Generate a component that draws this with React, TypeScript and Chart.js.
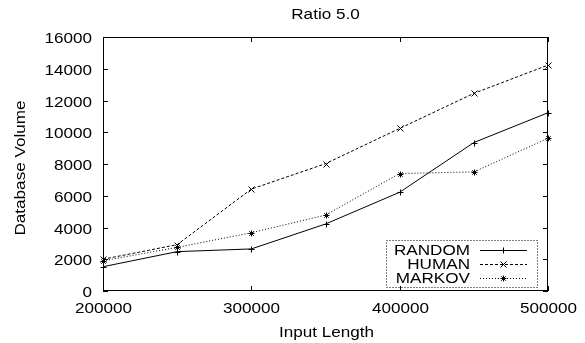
import React, { useEffect, useRef } from "react";
import { Chart, registerables } from "chart.js";

Chart.register(...registerables);

const xValues = [200000, 250000, 300000, 350000, 400000, 450000, 500000];
const randomValues = [1530, 2480, 2650, 4220, 6220, 9350, 11230];
const humanValues = [2000, 2920, 6420, 8020, 10240, 12450, 14230];
const markovValues = [1900, 2750, 3670, 4780, 7400, 7500, 9620];
const xTickValues = [200000, 300000, 400000, 500000];
const seriesNames = ["RANDOM", "HUMAN", "MARKOV"];
const titleText = "Ratio 5.0";
const xTitle = "Input Length";
const yTitle = "Database Volume";

const FONT = "14.5px 'Liberation Sans', Arial, sans-serif";
const STRETCH = 1.18;

function stretchText(ctx: CanvasRenderingContext2D, text: string, x: number, y: number, align: CanvasTextAlign, rot = 0) {
  ctx.save();
  ctx.translate(x, y);
  if (rot) ctx.rotate(rot);
  ctx.scale(STRETCH, 1);
  ctx.font = FONT;
  ctx.fillStyle = "#000";
  ctx.textAlign = align;
  ctx.textBaseline = "alphabetic";
  ctx.fillText(text, 0, 0);
  ctx.restore();
}

function drawMarker(ctx: CanvasRenderingContext2D, style: string, x: number, y: number, r: number) {
  ctx.save();
  ctx.setLineDash([]);
  ctx.lineWidth = 1;
  ctx.strokeStyle = "#000";
  ctx.beginPath();
  if (style === "cross" || style === "star") {
    ctx.moveTo(x - r, y); ctx.lineTo(x + r, y);
    ctx.moveTo(x, y - r); ctx.lineTo(x, y + r);
  }
  if (style === "crossRot" || style === "star") {
    const d = style === "star" ? r * 0.75 : r;
    ctx.moveTo(x - d, y - d); ctx.lineTo(x + d, y + d);
    ctx.moveTo(x - d, y + d); ctx.lineTo(x + d, y - d);
  }
  ctx.stroke();
  ctx.restore();
}

const decorPlugin = {
  id: "gnuplotDecor",
  afterDraw(chart: any) {
    const ctx: CanvasRenderingContext2D = chart.ctx;
    const { left, right, top, bottom } = chart.chartArea;
    const xs = chart.scales.x;
    const ys = chart.scales.y;
    ctx.save();
    ctx.strokeStyle = "#000";
    ctx.lineWidth = 1;
    ctx.setLineDash([]);
    ctx.strokeRect(left + 0.5, top + 0.5, right - left - 1, bottom - top - 1);
    ys.ticks.forEach((t: any) => {
      const y = Math.round(ys.getPixelForValue(t.value)) + 0.5;
      ctx.beginPath();
      ctx.moveTo(left, y); ctx.lineTo(left + 5, y);
      ctx.moveTo(right, y); ctx.lineTo(right - 5, y);
      ctx.stroke();
      stretchText(ctx, String(t.value), left - 11, y + 5, "right");
    });
    xTickValues.forEach((v) => {
      const x = Math.round(xs.getPixelForValue(v)) + 0.5;
      ctx.beginPath();
      ctx.moveTo(x, bottom); ctx.lineTo(x, bottom - 5);
      ctx.moveTo(x, top); ctx.lineTo(x, top + 5);
      ctx.stroke();
      stretchText(ctx, String(v), x, 312.5, "center");
    });
    const cx = (left + right) / 2;
    stretchText(ctx, titleText, cx, 18.5, "center");
    stretchText(ctx, xTitle, cx + 1, 336.5, "center");
    stretchText(ctx, yTitle, 25, 168, "center", -Math.PI / 2);
    const bx = 386, by = 240, bw = 151, bh = 47;
    ctx.setLineDash([1, 2]);
    ctx.strokeRect(bx + 0.5, by + 0.5, bw, bh);
    const rows = [250, 263.5, 277.5];
    chart.data.datasets.forEach((ds: any, i: number) => {
      const ry = rows[i];
      stretchText(ctx, ds.label, 470, ry + 5, "right");
      ctx.save();
      ctx.setLineDash(ds.borderDash || []);
      ctx.lineWidth = 1;
      ctx.strokeStyle = "#000";
      ctx.beginPath();
      ctx.moveTo(480, Math.round(ry) + 0.5);
      ctx.lineTo(527, Math.round(ry) + 0.5);
      ctx.stroke();
      ctx.restore();
      drawMarker(ctx, ds.pointStyle, 503.5, Math.round(ry) + 0.5, 3);
    });
    ctx.restore();
  },
};

const markerPlugin = {
  id: "markers",
  afterDatasetsDraw(chart: any) {
    const ctx = chart.ctx;
    chart.data.datasets.forEach((ds: any, i: number) => {
      const meta = chart.getDatasetMeta(i);
      meta.data.forEach((pt: any) => {
        drawMarker(ctx, ds.pointStyle, Math.round(pt.x) + 0.5, Math.round(pt.y) + 0.5, 3);
      });
    });
  },
};

function toPoints(vals: number[]) {
  return xValues.map((x, i) => ({ x, y: vals[i] }));
}

export default function App() {
  const ref = useRef<HTMLCanvasElement>(null);
  useEffect(() => {
    if (!ref.current) return;
    const chart = new Chart(ref.current, {
      type: "line",
      data: {
        datasets: [
          { label: seriesNames[0], data: toPoints(randomValues), borderColor: "#000", borderWidth: 1, borderDash: [], pointStyle: "cross", pointRadius: 0, tension: 0, fill: false },
          { label: seriesNames[1], data: toPoints(humanValues), borderColor: "#000", borderWidth: 1, borderDash: [3, 2], pointStyle: "crossRot", pointRadius: 0, tension: 0, fill: false },
          { label: seriesNames[2], data: toPoints(markovValues), borderColor: "#000", borderWidth: 1, borderDash: [1, 2], pointStyle: "star", pointRadius: 0, tension: 0, fill: false },
        ] as any,
      },
      options: {
        responsive: false,
        animation: false,
        layout: { padding: { top: 37, right: 37, left: 0, bottom: 0 } },
        plugins: { legend: { display: false }, title: { display: false }, tooltip: { enabled: false } },
        scales: {
          x: {
            type: "linear",
            min: 200000,
            max: 500000,
            grid: { display: false },
            border: { display: false },
            ticks: { display: false, stepSize: 100000 },
            afterFit: (s: any) => { s.height = 52; },
          },
          y: {
            min: 0,
            max: 16000,
            grid: { display: false },
            border: { display: false },
            ticks: { display: false, stepSize: 2000 },
            afterFit: (s: any) => { s.width = 103; },
          },
        },
      } as any,
      plugins: [markerPlugin, decorPlugin],
    });
    return () => chart.destroy();
  }, []);
  return (
    <div style={{ position: "fixed", left: 0, top: 0, width: 585, height: 343, background: "#fff" }}>
      <canvas ref={ref} width={585} height={343} style={{ display: "block" }} />
    </div>
  );
}
